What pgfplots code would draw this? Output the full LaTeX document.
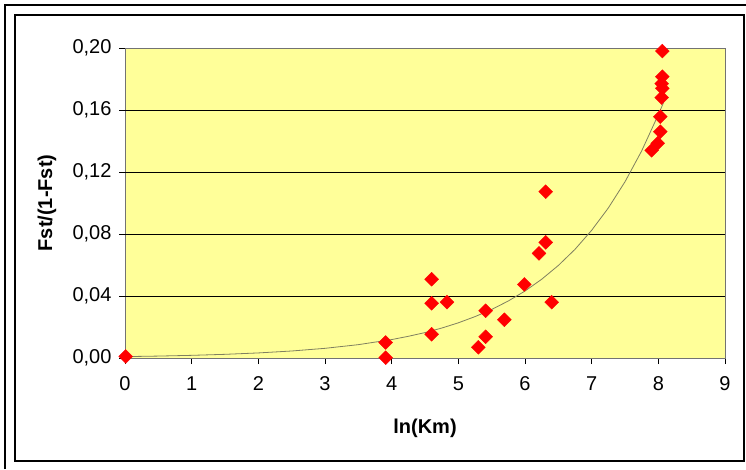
\documentclass[border=0pt]{standalone}
\usepackage{pgfplots}
\pgfplotsset{compat=1.18}
\usepackage{fontspec}
\setmainfont{Liberation Sans}
\definecolor{bgyellow}{RGB}{255,255,153}
\definecolor{trend}{RGB}{128,128,96}
\begin{document}
\begin{tikzpicture}[x=1pt,y=1pt]
\useasboundingbox (0,0) rectangle (746,469);
% frames
\draw[line width=1.3pt] (5,0) -- (5,464) -- (746,464);
\draw[line width=1.3pt] (15,8) rectangle (744,454);
\begin{axis}[
  at={(125pt,111pt)}, anchor=south west,
  scale only axis, width=600pt, height=310pt,
  xmin=0, xmax=9, ymin=0, ymax=0.2,
  xtick={0,1,...,9},
  ytick={0,0.04,0.08,0.12,0.16,0.20},
  extra y ticks={0.04,0.08,0.12,0.16},
  extra y tick labels={},
  extra y tick style={grid=major, major tick length=0pt},
  major grid style={black, line width=0.9pt},
  tick align=outside, tick pos=left,
  major tick length=6pt,
  tick style={black, line width=0.8pt},
  axis background/.style={fill=bgyellow},
  axis line style={draw=gray!90!black, line width=0.9pt},
  ticklabel style={font=\fontsize{20}{24}\selectfont},
  /pgf/number format/assume math mode=true,
  yticklabel style={/pgf/number format/fixed, /pgf/number format/fixed zerofill, /pgf/number format/precision=2, /pgf/number format/use comma, xshift=-4pt},
  xticklabel style={yshift=-9pt},
  scaled y ticks=false,
  clip=false,
]
\addplot[trend, line width=0.8pt, no marks] coordinates {
(0,0.0009) (0.5,0.00124) (1,0.00172) (1.5,0.00237) (2,0.00327) (2.5,0.00452)
(3,0.00624) (3.5,0.00861) (4,0.01189) (4.25,0.0140) (4.5,0.0164) (4.75,0.0193)
(5,0.0227) (5.25,0.0267) (5.5,0.0313) (5.75,0.0368) (6,0.0432) (6.25,0.0508)
(6.5,0.0597) (6.75,0.0701) (7,0.0824) (7.25,0.0968) (7.5,0.1137) (7.75,0.1336)
(8,0.157) (8.08,0.165)
};
\addplot[only marks, mark=square*, mark size=4.9pt, red, mark options={rotate=45, fill=red, draw=red}] coordinates {
(0.01,0.001)
(3.91,0.0100) (3.91,0.0002)
(4.60,0.0508) (4.60,0.0353) (4.83,0.0360) (4.60,0.0153)
(5.41,0.0305) (5.41,0.0137) (5.30,0.0069) (5.69,0.0247)
(5.99,0.0475) (6.31,0.1073) (6.31,0.0746) (6.21,0.0675) (6.40,0.0360)
(8.06,0.198) (8.06,0.1815) (8.05,0.177) (8.06,0.174) (8.05,0.168)
(8.03,0.1557) (8.03,0.146) (7.99,0.1385) (7.90,0.134)
};
\end{axis}
\node[font=\fontsize{20}{24}\selectfont\bfseries, rotate=90] at (47,266) {Fst/(1-Fst)};
\node[font=\fontsize{20}{24}\selectfont\bfseries] at (425,41) {ln(Km)};
\end{tikzpicture}
\end{document}
